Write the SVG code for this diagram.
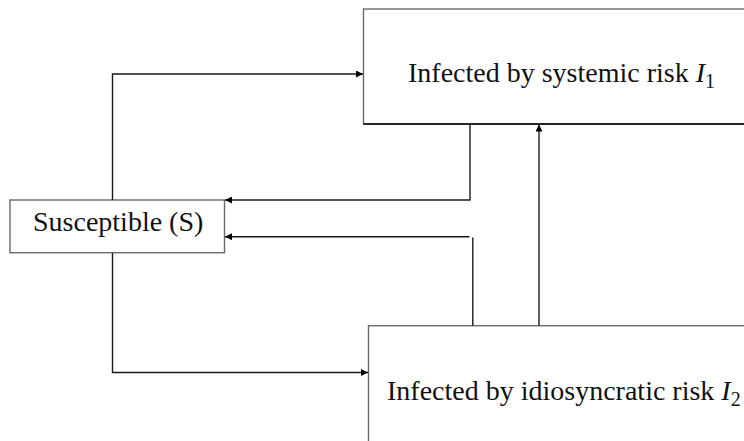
<svg xmlns="http://www.w3.org/2000/svg" width="744" height="441" viewBox="0 0 744 441">
<style>
.box{fill:#fff;stroke:#6a6a6a;stroke-width:1.4}
.edge{fill:none;stroke:#1a1a1a;stroke-width:1.4}
.lbl{font-family:"Liberation Serif","Times New Roman",serif;font-size:28px;fill:#111}
.it{font-style:italic}
.sub{font-size:20px}
</style>
<defs>
<marker id="ah" viewBox="0 0 10 10" refX="10" refY="5" markerWidth="7" markerHeight="7" markerUnits="userSpaceOnUse" orient="auto">
<path d="M0,0 L10,5 L0,10 z" fill="#000"/>
</marker>
</defs>
<rect width="744" height="441" fill="#fff"/>
<g id="node-I1">
<rect class="box" x="363.5" y="9" width="400" height="115"/>
<line x1="363.5" y1="124" x2="744" y2="124" stroke="#000" stroke-width="1.4"/>
<text class="lbl" x="408" y="82">Infected by systemic risk <tspan class="it">I</tspan><tspan class="sub" dy="6">1</tspan></text>
</g>
<g id="node-S">
<rect class="box" x="10" y="200" width="214.5" height="52.7"/>
<text class="lbl" x="33" y="231">Susceptible (S)</text>
</g>
<g id="node-I2">
<rect class="box" x="368.5" y="325.7" width="400" height="130"/>
<text class="lbl" x="387" y="399.5">Infected by idiosyncratic risk <tspan class="it">I</tspan><tspan class="sub" dy="6">2</tspan></text>
</g>
<g id="connectors">
<polyline class="edge" points="112.5,200 112.5,74 363,74" marker-end="url(#ah)"/>
<polyline class="edge" points="470,124 470,200 225,200" marker-end="url(#ah)"/>
<polyline class="edge" points="469.5,236.7 225,236.7" marker-end="url(#ah)"/>
<line class="edge" x1="472.8" y1="237.5" x2="472.8" y2="325.7"/>
<line class="edge" x1="539" y1="325.7" x2="539" y2="124.5" marker-end="url(#ah)"/>
<polyline class="edge" points="112.5,253 112.5,372.5 368,372.5" marker-end="url(#ah)"/>
</g>
</svg>
